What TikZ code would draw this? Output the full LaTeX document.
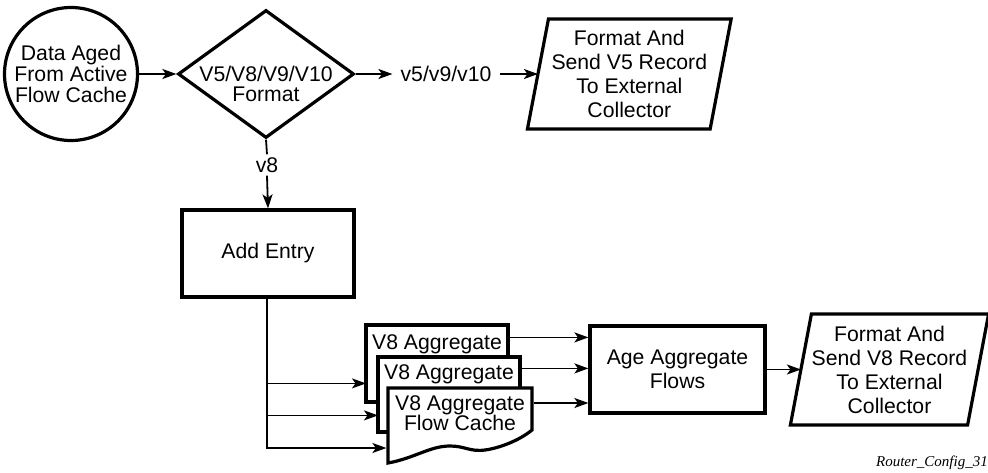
\documentclass[tikz,border=0pt]{standalone}
\usepackage{fontspec}
\setmainfont{Liberation Sans}
\newfontfamily\tagfont{Liberation Serif}
\usetikzlibrary{shapes.geometric,arrows.meta,calc}
\begin{document}
\begin{tikzpicture}[x=1pt,y=-1pt,
  font=\fontsize{21.2}{24}\selectfont,
  shapebox/.style={draw, line width=3.2pt, fill=white, align=center, inner sep=0pt, outer sep=1.6pt},
  txt/.style={align=center, inner sep=0pt},
  outline/.style={draw, line width=3.2pt, line join=miter},
  conn/.style={line width=1.8pt},
  arr/.style={conn, -{Stealth[length=14pt,width=10pt,inset=3.5pt]}}
]
\useasboundingbox (0,0) rectangle (988,472);

% top row
\node[shapebox, circle, minimum size=133pt, font=\fontsize{21.2}{21}\selectfont] (src) at (71,74) {Data Aged\\From Active\\Flow Cache};
\node[shapebox, diamond, minimum width=176pt, minimum height=128pt] (dia) at (266,74) {};
\node[txt, font=\fontsize{21.2}{19.5}\selectfont] (diat) at (266,84) {V5/V8/V9/V10\\Format};
\node[inner xsep=8pt, inner ysep=2pt] (v59) at (446,74) {v5/v9/v10};
\node[txt, minimum width=179.5pt, minimum height=110pt, outer sep=1.6pt] (p1) at (629.3,74) {Format And\\Send V5 Record\\To External\\Collector};
\draw[outline] ([xshift=-10.5pt,yshift=1.6pt]p1.south west) -- ([xshift=10.5pt,yshift=-1.6pt]p1.north west)
  -- ([xshift=10.5pt,yshift=-1.6pt]p1.north east) -- ([xshift=-10.5pt,yshift=1.6pt]p1.south east) -- cycle;

% middle
\node[inner sep=3pt] (v8) at (267,165) {v8};
\node[shapebox, minimum width=172pt, minimum height=87pt] (add) at (268,253.5) {Add Entry};
\coordinate (spine) at (add.south -| v8.south);

% aggregate caches
\node[shapebox, minimum width=142pt, minimum height=77pt, text height=24.5pt, text depth=52.5pt] (doc1) at (437,363.5) {V8 Aggregate};
\node[shapebox, minimum width=142pt, minimum height=75pt, text height=22.5pt, text depth=52.5pt] (doc2) at (449,394.5) {V8 Aggregate};
\path[outline, fill=white] (388,388) -- (532,388) -- (532,430)
  .. controls (520,440) and (500,448) .. (485,450)
  .. controls (470,452) and (465,446) .. (450,446)
  .. controls (430,446) and (415,458) .. (388,463) -- cycle;
\node[txt, font=\fontsize{21.2}{20}\selectfont] (doc3) at (460,413) {V8 Aggregate\\Flow Cache};

% bottom right
\node[shapebox, minimum width=175pt, minimum height=87pt, font=\fontsize{21.2}{23.5}\selectfont] (age) at (677.5,369.5) {Age Aggregate\\Flows};
\node[txt, minimum width=174pt, minimum height=111pt, outer sep=1.6pt] (p2) at (889.5,369.5) {Format And\\Send V8 Record\\To External\\Collector};
\draw[outline] ([xshift=-10.5pt,yshift=1.6pt]p2.south west) -- ([xshift=10.5pt,yshift=-1.6pt]p2.north west)
  -- ([xshift=10.5pt,yshift=-1.6pt]p2.north east) -- ([xshift=-10.5pt,yshift=1.6pt]p2.south east) -- cycle;

\node[anchor=base east, inner sep=0pt, font=\tagfont\itshape\fontsize{15}{15}\selectfont] (tag) at (988,466) {Router\_Config\_31};

% connection points
\coordinate (d1in) at ($(doc1.north west)+(1.6,60)$);
\coordinate (d2in) at ($(doc2.north west)+(1.6,60)$);
\coordinate (d3in) at (386.4,448);
\coordinate (d1out) at ($(doc1.north east)+(-1.6,14)$);
\coordinate (d2out) at ($(doc2.north east)+(-1.6,13)$);
\coordinate (d3out) at (533.6,403);

% connectors
\draw[arr] (src) -- (dia.west);
\draw[arr] (dia.east) -- (v59.west);
\draw[arr] (v59.east) -- (p1.west);
\draw[conn] (dia.south) -- (v8.north);
\draw[arr] (v8.south) -- (add.north);
\draw[arr] (spine) |- (d3in);
\draw[arr] (spine |- d1in) -- (d1in);
\draw[arr] (spine |- d2in) -- (d2in);
\draw[arr] (d1out) -- (d1out -| age.west);
\draw[arr] (d2out) -- (d2out -| age.west);
\draw[arr] (d3out) -- (d3out -| age.west);
\draw[arr] (age.east) -- (p2.west);
\end{tikzpicture}
\end{document}
